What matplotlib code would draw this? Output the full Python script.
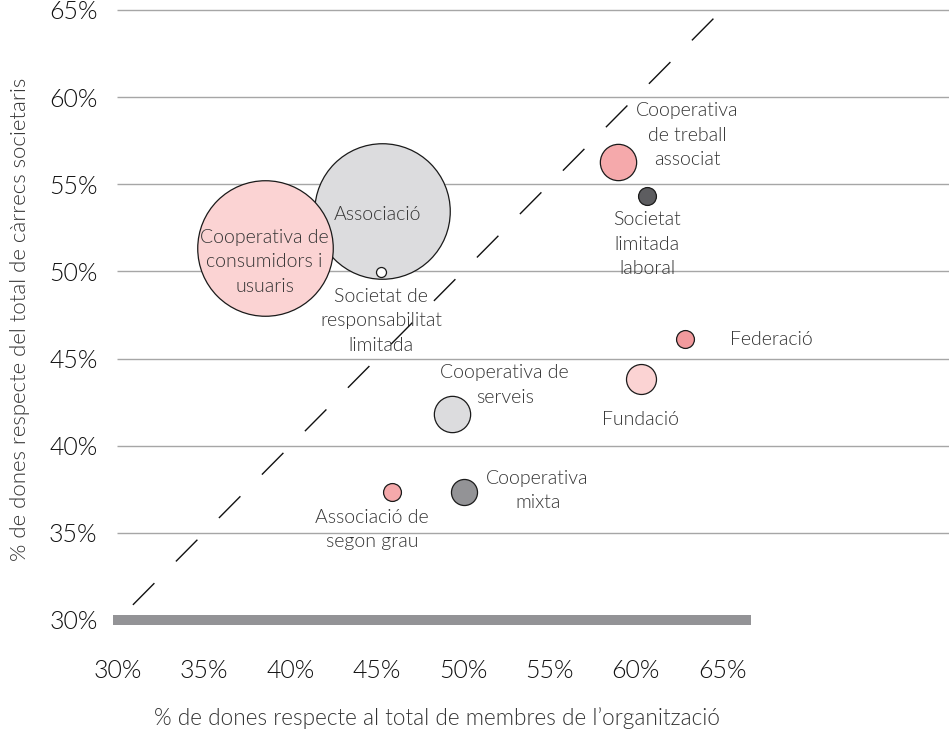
import matplotlib
matplotlib.use("Agg")
from matplotlib import pyplot as plt
import numpy as np

# dades (percentatges)
noms = ['Associació', 'Cooperativa de\nconsumidors i\nusuaris', 'Societat de\nresponsabilitat\nlimitada',
        'Cooperativa\nde treball\nassociat', 'Societat\nlimitada\nlaboral', 'Federació', 'Fundació',
        'Cooperativa de\nserveis', 'Associació de\nsegon grau', 'Cooperativa\nmixta']
pct_membres = [45.3, 38.5, 45.25, 58.95, 60.65, 62.85, 60.3, 49.35, 45.85, 50.05]
pct_carrecs = [53.45, 51.35, 49.95, 56.3, 54.35, 46.1, 43.8, 41.8, 37.35, 37.35]
mida = [4600, 4600, 25, 330, 80, 80, 225, 330, 80, 170]
colors = ['#dcdcde', '#fbd3d3', '#ffffff', '#f5a9ab', '#5d5d60', '#f29a9d', '#fbd3d3',
          '#dcdcde', '#f5a9ab', '#939396']
# posicio de les etiquetes (offset en punts respecte al punt)
offsets = [(-3, -2), (0, -10), (0, -35), (50, 19), (0, -35), (62, 0), (0, -29),
           (38, 21), (-14, -27), (53, 1)]

ticks = [30, 35, 40, 45, 50, 55, 60, 65]

plt.rcParams['font.family'] = ['Lato', 'DejaVu Sans']
plt.rcParams['font.weight'] = 300

fig = plt.figure(figsize=(9.49, 7.37), dpi=100)
ax = fig.add_axes([0.1159, 0.1316, 0.8841, 0.8684])
ax.set_xlim(29.54, 78.15)
ax.set_ylim(28.85, 65.57)

for sp in ax.spines.values():
    sp.set_visible(False)

# linies horitzontals
ax.hlines(ticks[1:], 29.95, 80, color='#a6a6a6', lw=1.0, zorder=1)
ax.hlines(30, 29.7, 66.7, color='#939396', lw=7.2, zorder=2, capstyle='butt')

# diagonal (de dalt a baix)
d = np.array([64.5, 30.2])
ax.plot(d, d, color='#111111', lw=1.0, linestyle=(0, (22, 22)), zorder=3)

for i in range(len(noms)):
    ax.scatter(pct_membres[i], pct_carrecs[i], s=mida[i] * 2.07, color=colors[i],
               edgecolor='#1a1a1a', linewidth=0.9, zorder=4 + i)
    ax.annotate(noms[i], (pct_membres[i], pct_carrecs[i]), xytext=offsets[i],
                textcoords='offset points', ha='center', va='center', fontsize=14,
                color='#333333', linespacing=1.52, zorder=20)

ax.set_xticks(ticks)
ax.set_xticklabels([str(t) + '%' for t in ticks], fontsize=18, color='#111111')
ax.set_yticks(ticks)
ax.set_yticklabels([str(t) + '%' for t in ticks], fontsize=18, color='#111111')
ax.tick_params(axis='both', length=0)
ax.tick_params(axis='x', pad=14)
ax.tick_params(axis='y', pad=9)

fig.text(0.461, 0.026, '% de dones respecte al total de membres de l\u2019organització',
         ha='center', va='center', fontsize=16.3, color='#333333')
fig.text(0.021, 0.567, '% de dones respecte del total de càrrecs societaris',
         ha='center', va='center', rotation=90, fontsize=16, color='#333333')

plt.savefig('out.png', dpi=100)
